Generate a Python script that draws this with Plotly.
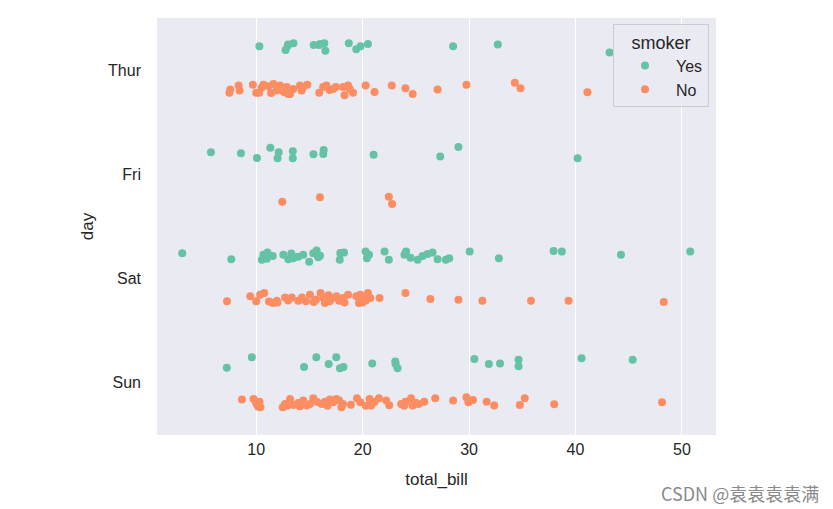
import plotly.graph_objects as go

# day order on the y axis (top to bottom)
days = ["Thur", "Fri", "Sat", "Sun"]
smokers = ["Yes", "No"]
colors = {"Yes": "#66c2a5", "No": "#fc8d62"}

# total_bill values, with the jitter seen on each dot
thur_yes_bill = [10.3, 12.76, 12.96, 13.5, 15.4, 15.9, 16.4, 16.5, 18.7, 19.4, 19.8, 20.5, 28.5, 32.7, 43.2, 13.0, 16.0]
thur_yes_jit = [-0.03, 0.007, -0.035, -0.057, -0.04, -0.04, -0.057, 0.013, -0.057, -0.001, -0.03, -0.05, -0.03, -0.046, 0.03, -0.045, -0.05]

thur_no_bill = [7.48, 7.57, 8.35, 8.44, 9.69, 10.0, 10.28, 10.68, 11.15, 11.62, 11.93, 12.24, 12.4, 12.87,
                13.18, 13.49, 14.11, 14.27, 14.42, 15.92, 16.29, 16.6, 17.23, 17.48, 18.16, 18.63, 18.79,
                19.1, 20.28, 21.12, 22.74, 24.02, 24.7, 27.04, 29.75, 34.3, 34.83, 41.12,
                11.4, 13.0, 16.9, 18.3, 14.8, 10.5, 12.6]
thur_no_jit = [0.018, -0.014, -0.053, -0.005, -0.059, 0.018, 0.018, -0.059, -0.046, -0.068, -0.005, -0.053,
               -0.02, -0.037, 0.028, -0.02, -0.053, -0.005, -0.037, 0.018, -0.037, -0.053, -0.02, -0.037,
               -0.037, -0.053, -0.02, 0.018, -0.053, 0.01, -0.053, -0.027, 0.028, -0.014, -0.059, -0.078,
               -0.027, 0.012, 0.02, 0.03, -0.01, 0.04, -0.06, -0.03, 0.01]

fri_yes_bill = [5.75, 8.57, 10.07, 11.33, 12.11, 12.01, 13.44, 13.44, 15.38, 16.34, 16.3, 21.03, 27.29, 29.0, 40.2]
fri_yes_jit = [-0.013, -0.003, 0.043, -0.055, -0.013, 0.046, -0.023, 0.046, 0.008, -0.034, 0.005, 0.012, 0.029, -0.062, 0.046]

fri_no_bill = [12.45, 15.99, 22.46, 22.77]
fri_no_jit = [0.063, 0.02, 0.014, 0.085]

sat_yes_bill = [3.05, 7.66, 10.53, 10.68, 11.06, 11.56, 12.55, 13.02, 13.49, 13.95, 14.42, 14.98, 15.36, 15.67,
                15.82, 17.85, 18.25, 20.28, 20.4, 22.06, 22.46, 24.08, 23.93, 25.17, 25.64, 26.1, 26.57, 27.04,
                27.82, 28.13, 30.06, 32.8, 37.94, 38.72, 44.27, 50.78,
                11.0, 13.3, 16.0, 20.6, 24.5, 17.9]
sat_yes_jit = [-0.043, 0.014, 0.02, -0.028, -0.05, -0.018, -0.028, 0.014, 0.005, -0.011, -0.028, 0.037, -0.043,
               -0.069, -0.005, 0.02, -0.05, -0.06, 0.005, -0.06, 0.02, -0.06, -0.028, 0.02, -0.018, -0.037, -0.05,
               0.014, 0.02, 0.005, -0.06, 0.005, -0.066, -0.06, -0.028, -0.06,
               0.01, -0.04, -0.02, -0.03, 0.0, -0.045]

sat_no_bill = [7.26, 9.44, 10.0, 10.37, 10.75, 11.56, 11.93, 12.71, 13.34, 13.95, 14.67, 15.05, 15.61, 16.05,
               16.29, 16.45, 16.92, 17.54, 17.79, 18.16, 18.63, 19.65, 19.78, 20.19, 20.5, 20.72, 21.59, 24.02,
               26.36, 29.0, 31.25, 35.82, 39.35, 48.29,
               11.2, 13.0, 14.3, 15.4, 17.1, 18.3, 19.4, 20.0, 12.0, 16.8, 20.3]
sat_no_jit = [0.018, -0.03, 0.018, -0.046, -0.062, 0.034, 0.012, -0.02, -0.02, 0.012, 0.018, -0.046, 0.002,
              -0.062, -0.02, 0.034, 0.018, -0.03, 0.012, -0.014, -0.046, 0.034, -0.046, -0.008, -0.062, -0.014,
              -0.014, -0.062, -0.005, 0.002, 0.012, 0.012, 0.012, 0.024,
              0.02, 0.01, -0.02, 0.025, -0.01, 0.03, -0.03, 0.03, 0.028, -0.04, 0.01]

sun_yes_bill = [7.24, 9.59, 14.5, 15.65, 16.81, 17.52, 17.87, 18.2, 20.9, 23.07, 23.28, 30.5, 31.86, 32.91,
                34.65, 34.65, 40.57, 45.37, 23.1]
sun_yes_jit = [0.056, -0.046, 0.048, -0.046, 0.02, -0.046, 0.059, 0.048, 0.013, -0.004, 0.059, -0.029, 0.02,
               0.013, -0.022, 0.041, -0.036, -0.022, 0.02]

sun_no_bill = [8.66, 9.75, 10.0, 10.12, 10.31, 12.49, 12.71, 13.18, 13.49, 13.95, 14.42, 14.73, 15.05, 15.36,
               16.14, 16.45, 16.92, 17.23, 17.54, 18.01, 18.16, 19.47, 19.78, 20.65, 20.81, 21.12, 21.53, 22.21,
               23.62, 24.02, 24.55, 24.7, 25.26, 25.79, 26.82, 28.5, 29.75, 29.94, 30.37, 31.65, 32.36, 34.77,
               35.23, 38.0, 48.13,
               10.2, 12.9, 14.1, 15.7, 16.7, 17.8, 18.9, 20.3, 22.5, 23.9, 25.0, 10.4]
sun_no_jit = [-0.04, -0.046, -0.008, 0.012, -0.02, 0.034, 0.002, -0.046, 0.012, -0.008, -0.03, 0.018, 0.002,
              -0.053, 0.002, -0.02, -0.04, -0.014, -0.046, 0.034, 0.002, -0.053, -0.014, -0.046, 0.018, -0.02,
              -0.053, -0.03, 0.002, -0.02, -0.053, 0.018, 0.002, -0.02, -0.053, -0.03, -0.062, -0.014, -0.036,
              -0.02, 0.018, 0.012, -0.053, 0.005, -0.014,
              0.03, 0.02, 0.025, -0.02, 0.02, -0.03, 0.01, 0.02, 0.015, 0.02, -0.01, 0.035]

bills = {
    ("Thur", "Yes"): (thur_yes_bill, thur_yes_jit),
    ("Thur", "No"): (thur_no_bill, thur_no_jit),
    ("Fri", "Yes"): (fri_yes_bill, fri_yes_jit),
    ("Fri", "No"): (fri_no_bill, fri_no_jit),
    ("Sat", "Yes"): (sat_yes_bill, sat_yes_jit),
    ("Sat", "No"): (sat_no_bill, sat_no_jit),
    ("Sun", "Yes"): (sun_yes_bill, sun_yes_jit),
    ("Sun", "No"): (sun_no_bill, sun_no_jit),
}

# dodge: Yes sits above the day centre, No below
dodge = {"Yes": -0.2, "No": 0.2}

font = "Liberation Sans, Arial, sans-serif"
fig = go.Figure()
for s in smokers:
    xs, ys = [], []
    for i, d in enumerate(days):
        b, j = bills[(d, s)]
        xs += b
        ys += [i + dodge[s] + v for v in j]
    fig.add_trace(go.Scatter(
        x=xs, y=ys, mode="markers", name=s,
        marker=dict(color=colors[s], size=8, line=dict(width=0)),
    ))

# page body has an 8px margin, so the figure is drawn 8px smaller
fig.update_layout(
    width=825, height=501,
    margin=dict(l=149, r=117, t=10, b=74),
    paper_bgcolor="white",
    plot_bgcolor="#eaeaf2",
    font=dict(family=font, size=16, color="#262626"),
    legend=dict(
        title=dict(text="smoker", side="top center", font=dict(size=18)),
        x=0.9875, y=0.985, xanchor="right", yanchor="top",
        bgcolor="rgba(234,234,242,0.8)", bordercolor="#cccccc", borderwidth=1,
        font=dict(size=16), itemwidth=52, tracegroupgap=0,
    ),
    xaxis=dict(
        range=[0.68, 53.2], tickvals=[10, 20, 30, 40, 50],
        showgrid=True, gridcolor="white", gridwidth=1.2, zeroline=False,
        showline=False, ticks="", ticklabelstandoff=3,
        title=dict(text="total_bill", font=dict(size=17), standoff=16),
    ),
    yaxis=dict(
        range=[3.5, -0.5], tickvals=[0, 1, 2, 3], ticktext=days,
        showgrid=False, zeroline=False, showline=False, ticks="", ticklabelstandoff=15,
        title=dict(text="day", font=dict(size=17), standoff=10),
    ),
    annotations=[dict(
        text="CSDN @袁袁袁袁满", xref="paper", yref="paper",
        x=1.1878, y=-0.14, xanchor="right", yanchor="middle", showarrow=False,
        font=dict(family="Noto Sans CJK SC, sans-serif", size=18, color="#8a8a8a"),
    )],
)

fig.write_html("out.html")
